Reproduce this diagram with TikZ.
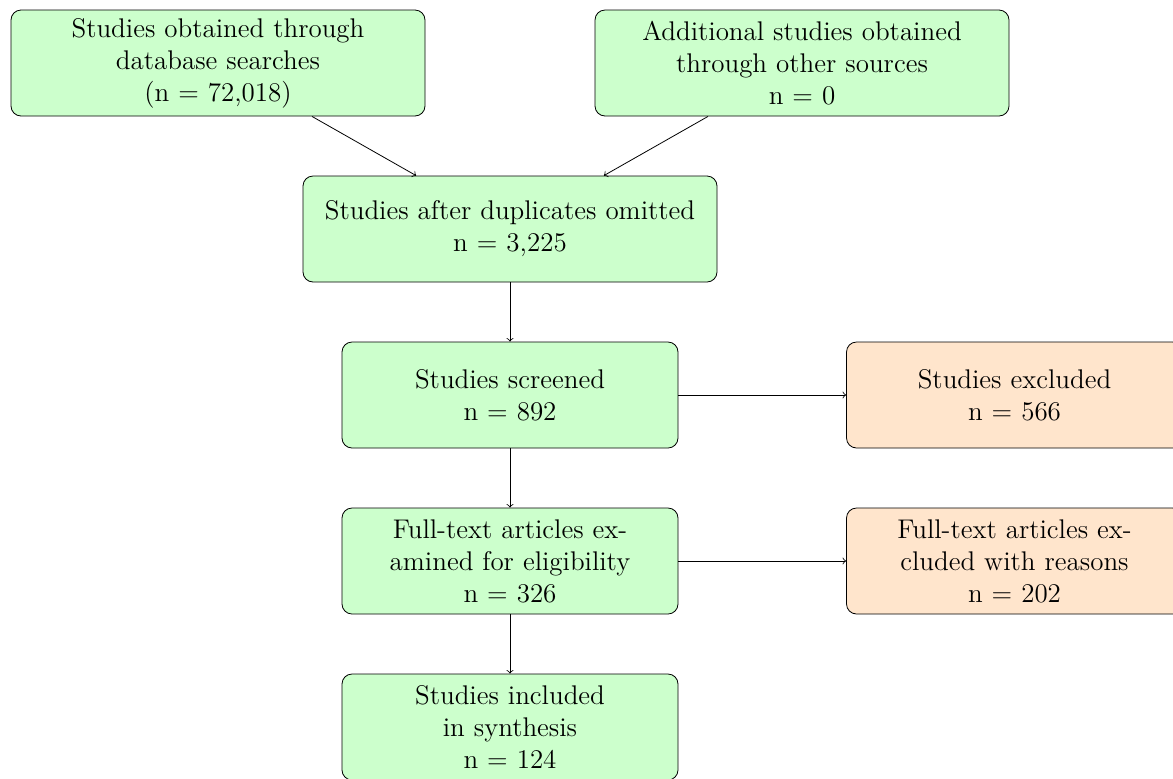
\documentclass[tikz,border=0pt]{standalone}
\usetikzlibrary{arrows}
\definecolor{boxgreen}{HTML}{CCFFCC}
\definecolor{boxorange}{HTML}{FFE5CC}
\tikzset{
  base/.style={draw=black, rounded corners=5pt, inner sep=0pt, align=center,
    minimum height=53pt, font=\fontsize{13.5}{16}\selectfont},
  widebox/.style={base, fill=boxgreen, text width=207pt},
  greenbox/.style={base, fill=boxgreen, text width=168pt},
  orangebox/.style={base, fill=boxorange, text width=168pt},
  link/.style={->, draw=black}
}
\begin{document}
\begin{tikzpicture}[x=0.5pt, y=-0.5pt]
\useasboundingbox (0,0) rectangle (1173,778);
\begin{scope}
\clip (0,0) rectangle (1173,778);
\node[widebox] (db) at (218,63) {Studies obtained through\\database searches\\(n = 72,018)};
\node[widebox] (other) at (802,63) {Additional studies obtained\\through other sources\\n = 0};
\node[widebox] (dup) at (510,229) {Studies after duplicates omitted\\n = 3,225};
\node[greenbox] (screen) at (510,395) {Studies screened\\n = 892};
\node[orangebox] (excl) at (1014.5,395) {Studies excluded\\n = 566};
\node[greenbox] (full) at (510,561) {Full-text articles ex-\\amined for eligibility\\n = 326};
\node[orangebox] (fullexcl) at (1014.5,561) {Full-text articles ex-\\cluded with reasons\\n = 202};
\node[greenbox] (incl) at (510,727) {Studies included\\in synthesis\\n = 124};
\draw[link] (db) -- (dup);
\draw[link] (other) -- (dup);
\draw[link] (dup) -- (screen);
\draw[link] (screen) -- (excl);
\draw[link] (screen) -- (full);
\draw[link] (full) -- (fullexcl);
\draw[link] (full) -- (incl);
\end{scope}
\end{tikzpicture}
\end{document}
